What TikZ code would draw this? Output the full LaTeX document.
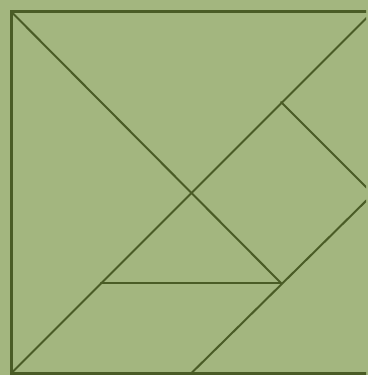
\documentclass[tikz,border=0pt]{standalone}
\usepackage{xcolor}
\definecolor{sage}{HTML}{A3B67F}
\definecolor{moss}{HTML}{4A5C26}
\tikzset{
  board/.style={draw=moss, line width=3pt},
  cut/.style={draw=moss, line width=2pt, line cap=round},
}
\begin{document}
\begin{tikzpicture}[x=1pt,y=-1pt]
  \useasboundingbox[fill=sage] (0,0) rectangle (368,375);
  \clip (0,0) rectangle (366,375);
  % corners of the board
  \coordinate (tl) at (11,11.5);
  \coordinate (tr) at (373,11.5);
  \coordinate (br) at (373,373.5);
  \coordinate (bl) at (11,373.5);
  % inner points
  \coordinate (mid) at (191,192.5);
  \coordinate (pl) at (101,283);
  \coordinate (pr) at (281,283);
  \coordinate (sq) at (281,102);
  \coordinate (re) at (373,194);
  \coordinate (bo) at (191,373.5);

  \draw[board] (tl) -- (tr) -- (br) -- (bl) -- cycle;
  % cuts
  \draw[cut] (bl) -- (tr);
  \draw[cut] (tl) -- (pr);
  \draw[cut] (pl) -- (pr);
  \draw[cut] (bo) -- (re);
  \draw[cut] (sq) -- (re);
\end{tikzpicture}
\end{document}
